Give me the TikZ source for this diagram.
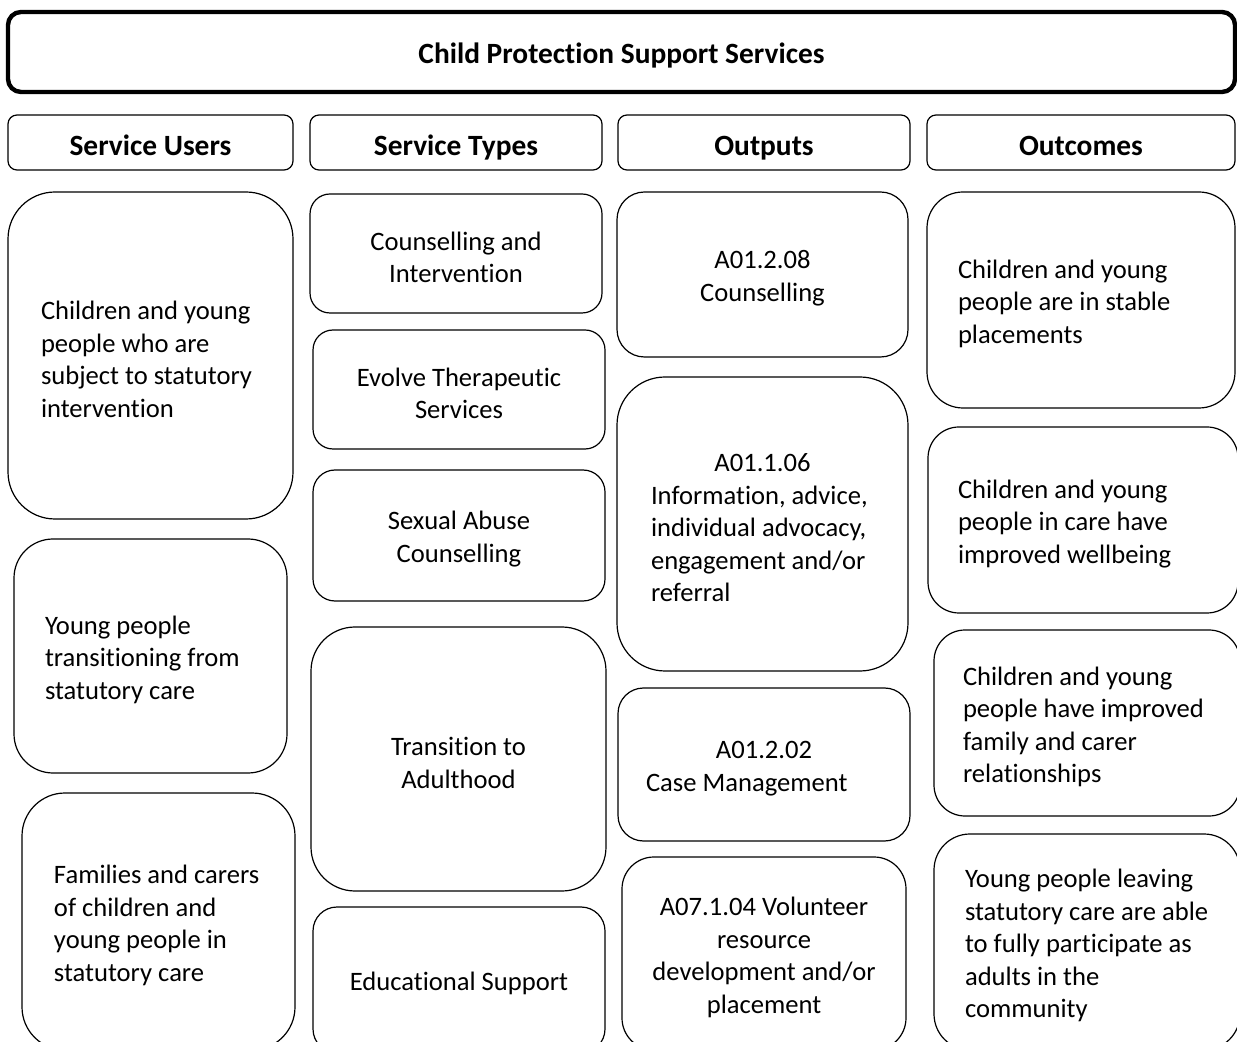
\documentclass[tikz,border=0pt]{standalone}
\usepackage{fontspec}
\setmainfont{Carlito}[Ligatures=NoCommon]
\hfuzz=40pt
\hbadness=10000
\begin{document}
\begin{tikzpicture}[x=0.5pt, y=-0.5pt,
  box/.style={draw, line width=0.6pt, inner sep=0pt},
  body/.style={font=\fontsize{13.3}{16.25}\selectfont\rule{0pt}{13pt}},
  head/.style={box, font=\bfseries\fontsize{14.7}{17}\selectfont,
    text height=13pt, text depth=0pt,
    minimum height=27.5pt, rounded corners=4.5pt},
  cell/.style={box, body},
  lcell/.style={cell, align=flush left},
  ccell/.style={cell, align=flush center, text width=130pt}]
  \path[use as bounding box, clip] (0,0) rectangle (1237,1042);

  \node[draw, line width=2.2pt, rounded corners=6.5pt, minimum width=613.5pt,
    minimum height=40pt, font=\bfseries\fontsize{14.7}{17}\selectfont,
    text height=11.5pt, text depth=0pt]
    (title) at (621.5,52) {Child Protection Support Services};

  \node[head, minimum width=142.5pt] (hUsers) at (150.5,142.5) {Service Users};
  \node[head, minimum width=146pt] (hTypes) at (456,142.5) {Service Types};
  \node[head, minimum width=146pt] (hOutputs) at (764,142.5) {Outputs};
  \node[head, minimum width=154pt] (hOutcomes) at (1081,142.5) {Outcomes};

  \begin{scope}
    \node[lcell, minimum width=142.5pt, minimum height=163.5pt, rounded corners=23.5pt,
      text width=109.5pt] (user1) at (150.5,355.5)
      {Children and young\\people who are\\subject to statutory\\intervention};
    \node[lcell, minimum width=136.5pt, minimum height=117pt, rounded corners=19.5pt,
      text width=105.5pt] (user2) at (150.5,656)
      {Young people\\transitioning from\\statutory care};
    \node[lcell, minimum width=136.5pt, minimum height=128.5pt, rounded corners=21.5pt,
      text width=104.5pt] (user3) at (158.5,921.5)
      {Families and carers\\of children and\\young people in\\statutory care};
  \end{scope}

  \begin{scope}
    \node[ccell, minimum width=146pt, minimum height=59.5pt,
      rounded corners=10pt] (type1) at (456,253.5) {Counselling and\\Intervention};
    \node[ccell, minimum width=146pt, minimum height=59.5pt,
      rounded corners=10pt] (type2) at (459,389.5) {Evolve Therapeutic\\Services};
    \node[ccell, minimum width=146pt, minimum height=65.5pt,
      rounded corners=11pt] (type3) at (459,535.5) {Sexual Abuse\\Counselling};
    \node[ccell, minimum width=147.5pt, minimum height=132pt,
      rounded corners=22pt] (type4) at (458.5,759) {Transition to\\Adulthood};
    \node[ccell, minimum width=146pt, minimum height=73pt,
      rounded corners=12pt] (type5) at (459,980) {Educational Support};
  \end{scope}

  \begin{scope}
    \node[ccell, minimum width=145.5pt, minimum height=82.5pt,
      rounded corners=13.75pt] (out1) at (762.5,274.5) {A01.2.08\\Counselling};
    \node[lcell, minimum width=145.5pt, minimum height=147pt, rounded corners=24pt,
      text width=111.5pt] (out2) at (762.5,524)
      {\makebox[\linewidth][c]{A01.1.06}\\Information, advice,\\individual advocacy,\\engagement and/or\\referral};
    \node[lcell, minimum width=146pt, minimum height=76.5pt, rounded corners=12.75pt,
      text width=118pt] (out3) at (764,764.5)
      {\makebox[\linewidth][c]{A01.2.02}\\Case Management};
    \node[ccell, minimum width=142pt, minimum height=96.5pt,
      rounded corners=16pt] (out4) at (764,953.5)
      {A07.1.04 Volunteer\\resource\\development and/or\\placement};
  \end{scope}

  \begin{scope}
    \node[lcell, minimum width=154pt, minimum height=108pt, rounded corners=18pt,
      text width=123pt] (outc1) at (1081,300)
      {Children and young\\people are in stable\\placements};
    \node[lcell, minimum width=155pt, minimum height=93pt, rounded corners=15.5pt,
      text width=125pt] (outc2) at (1083,520)
      {Children and young\\people in care have\\improved wellbeing};
    \node[lcell, minimum width=153pt, minimum height=93pt, rounded corners=15.5pt,
      text width=124pt] (outc3) at (1087,723)
      {Children and young\\people have improved\\family and carer\\relationships};
    \node[lcell, minimum width=153pt, minimum height=108pt, rounded corners=18pt,
      text width=122pt] (outc4) at (1087,942)
      {Young people leaving\\statutory~care~are~able\\to fully participate as\\adults in the\\community};
  \end{scope}
\end{tikzpicture}
\end{document}
